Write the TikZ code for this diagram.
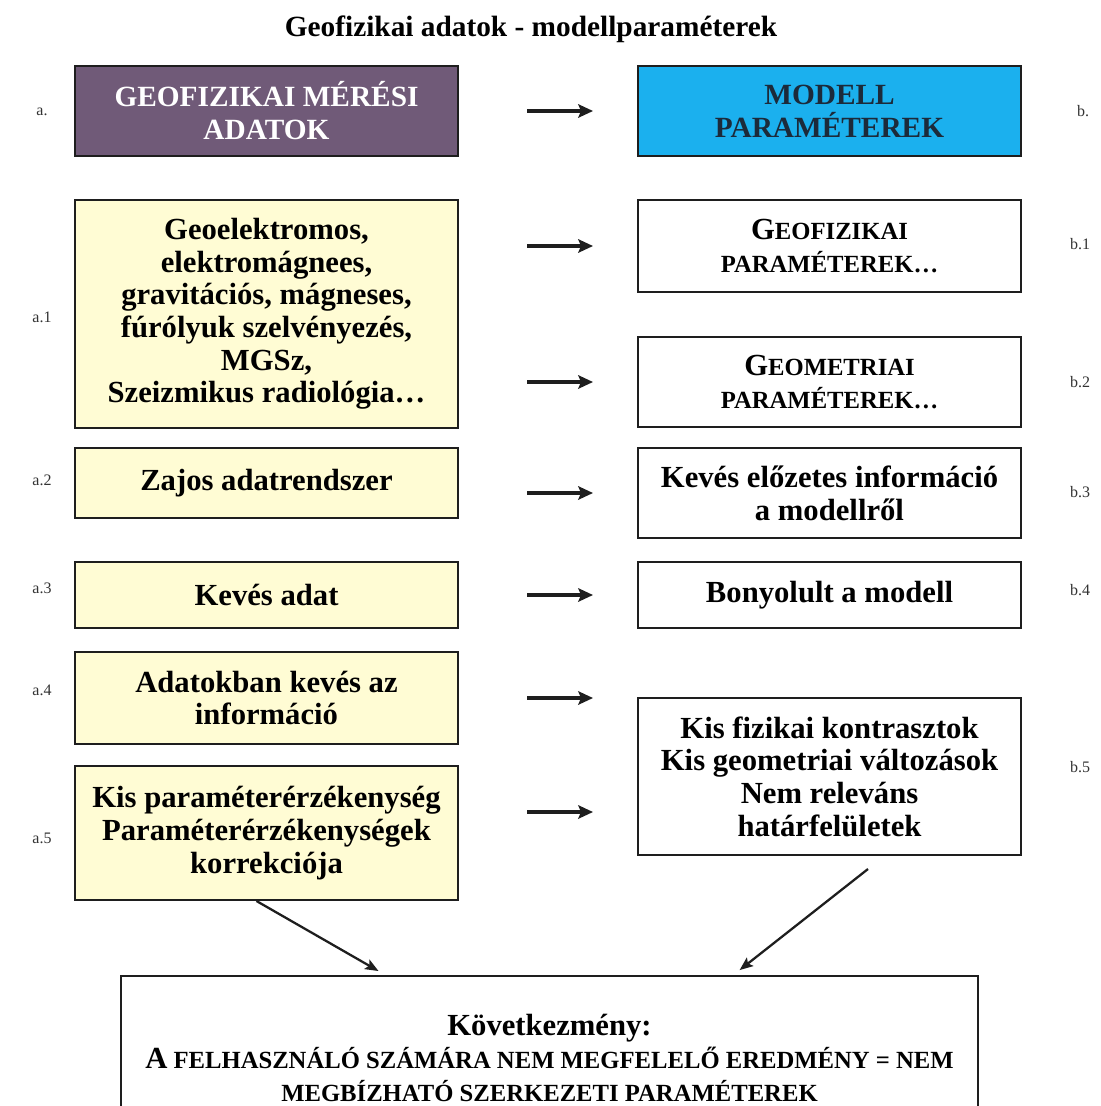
\documentclass[tikz,border=0pt]{standalone}
\usepackage{fontspec}
\setmainfont{Liberation Serif}
\usepackage{xcolor}
\usetikzlibrary{arrows.meta,positioning,calc}
\definecolor{geopurple}{HTML}{705A78}
\definecolor{modcyan}{HTML}{1BB0EE}
\definecolor{datayellow}{HTML}{FFFCD4}
\definecolor{boxline}{HTML}{1E1E1E}
\definecolor{modink}{HTML}{1C2A3A}
\newcommand\boxfont{\fontsize{23}{24.5}\selectfont\bfseries}
\newcommand\fakesc[1]{{\fontsize{18.5}{24.5}\selectfont #1}}
\tikzset{
  databox/.style={rectangle,draw=boxline,line width=1.5pt,fill=datayellow,
                  minimum width=287.25pt,inner sep=2pt,align=center,font=\boxfont},
  parbox/.style={databox,fill=white},
  headbox/.style={databox,font=\fontsize{22}{24.75}\selectfont\bfseries},
  tag/.style={font=\fontsize{12}{14}\selectfont,text=black!80},
  flow/.style={-{Stealth[length=11pt,width=10pt,inset=2pt]},line width=2.5pt,draw=boxline,
               shorten <=51pt,shorten >=33pt},
  diag/.style={-{Stealth[length=10pt,width=8pt,inset=2pt]},line width=1.7pt,draw=boxline,
               shorten >=6pt},
}

\begin{document}
\begin{tikzpicture}[x=0.75pt,y=-0.75pt]
\useasboundingbox (0,0) rectangle (1100,1106);
\fill[white] (0,0) rectangle (1100,1106);

\node[font=\fontsize{22}{26}\selectfont\bfseries] (title) at (531,29) {Geofizikai adatok - modellparaméterek};

% data column
\node[headbox,fill=geopurple,text=white,minimum height=67.5pt] (a0) at (266.5,111) {GEOFIZIKAI MÉRÉSI\\ADATOK};
\node[databox,minimum height=171pt] (a1) at (266.5,314) {Geoelektromos,\\elektromágnees,\\gravitációs, mágneses,\\fúrólyuk szelvényezés,\\MGSz,\\Szeizmikus radiológia…};
\node[databox,minimum height=52.5pt] (a2) at (266.5,483) {Zajos adatrendszer};
\node[databox,minimum height=49.5pt] (a3) at (266.5,595) {Kevés adat};
\node[databox,minimum height=69pt] (a4) at (266.5,698) {Adatokban kevés az\\információ};
\node[databox,minimum height=100.5pt] (a5) at (266.5,833) {Kis paraméterérzékenység\\Paraméterérzékenységek\\korrekciója};

% model column
\node[headbox,fill=modcyan,text=modink,minimum height=67.5pt] (b0) at (829.5,111) {MODELL\\PARAMÉTEREK};
\node[parbox,minimum height=69pt] (b1) at (829.5,246) {G\fakesc{EOFIZIKAI}\\\fakesc{PARAMÉTEREK…}};
\node[parbox,minimum height=67.5pt] (b2) at (829.5,382) {G\fakesc{EOMETRIAI}\\\fakesc{PARAMÉTEREK…}};
\node[parbox,minimum height=67.5pt] (b3) at (829.5,493) {Kevés előzetes információ\\a modellről};
\node[parbox,minimum height=49.5pt] (b4) at (829.5,595) {Bonyolult a modell};
\node[parbox,minimum height=117.75pt] (b5) at (829.5,776.5) {Kis fizikai kontrasztok\\Kis geometriai változások\\Nem releváns\\határfelületek};

% result
\node[parbox,minimum width=642.75pt,minimum height=123pt] (res) at (549.5,1058) {Következmény:\\A\fakesc{ FELHASZNÁLÓ SZÁMÁRA NEM MEGFELELŐ EREDMÉNY = NEM}\\\fakesc{MEGBÍZHATÓ SZERKEZETI PARAMÉTEREK}};

% tags
\node[tag] (ta0) at (42,112) {a.};
\node[tag] (ta1) at (42,317) {a.1};
\node[tag] (ta2) at (42,480) {a.2};
\node[tag] (ta3) at (42,588) {a.3};
\node[tag] (ta4) at (42,690) {a.4};
\node[tag] (ta5) at (42,838) {a.5};
\node[tag] (tb0) at (1083,111) {b.};
\node[tag] (tb1) at (1080,244) {b.1};
\node[tag] (tb2) at (1080,382) {b.2};
\node[tag] (tb3) at (1080,492) {b.3};
\node[tag] (tb4) at (1080,590) {b.4};
\node[tag] (tb5) at (1080,767) {b.5};

% arrows
\coordinate (a5out) at ([yshift=15.75pt]a5.east);
\draw[flow] (a0) -- (b0);
\draw[flow] (b1.west -| a1.east) -- (b1.west);
\draw[flow] (b2.west -| a1.east) -- (b2.west);
\draw[flow] (b3.west -| a2.east) -- (b3.west);
\draw[flow] (a3) -- (b4);
\draw[flow] (a4.east) -- (a4.east -| b5.west);
\draw[flow] (a5out) -- (a5out -| b5.west);
\draw[diag] ([xshift=-7.5pt]a5.south) -- ($(res.north west)!0.309!(res.north east)$);
\draw[diag] ($(b5.south)+(38.5,13)$) -- ($(res.north west)!0.714!(res.north east)$);
\end{tikzpicture}
\end{document}
